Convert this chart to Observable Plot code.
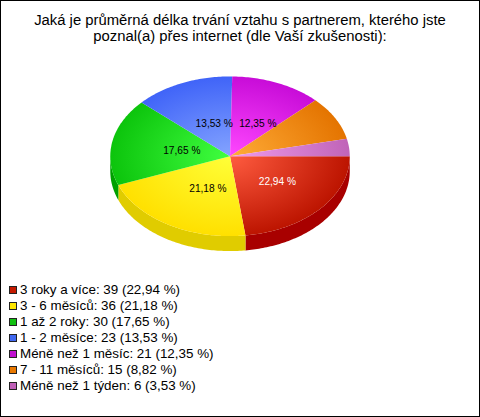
<!DOCTYPE html>
<html><head><meta charset="utf-8">
<script src="https://cdn.jsdelivr.net/npm/d3@7"></script>
<script src="https://cdn.jsdelivr.net/npm/@observablehq/plot@0.6"></script>
<style>
html,body{margin:0;padding:0;background:#fff}
#frame{position:relative;box-sizing:border-box;width:480px;height:417px;border:1px solid #000;overflow:hidden;font-family:"Liberation Sans",Arial,sans-serif;color:#000}
#title{position:absolute;left:0;top:11px;width:478px;text-align:center;font-size:14.85px;line-height:16px}
#chart{position:absolute;left:-1px;top:48px}
#chart svg{display:block}
#legend{position:absolute;left:8px;top:281px;font-size:13.4px;line-height:16px;white-space:nowrap}
.row{height:16px;display:flex;align-items:center}
.sw{display:inline-block;box-sizing:border-box;width:8px;height:8px;border:1px solid #222;margin-right:3px;flex:none}
</style></head><body>
<div id="frame"><div id="title">Jaká je průměrná délka trvání vztahu s partnerem, kterého jste<br>poznal(a) přes internet (dle Vaší zkušenosti):</div><div id="chart"></div><div id="legend"></div></div>
<script>
const categories = ["3 roky a více","3 - 6 měsíců","1 až 2 roky","1 - 2 měsíce","Méně než 1 měsíc","7 - 11 měsíců","Méně než 1 týden"];
const counts = [39,36,30,23,21,15,6];
const percents = ["22,94","21,18","17,65","13,53","12,35","8,82","3,53"];
const swatchColors = ["#c41a00","#ffe600","#10c010","#4068f0","#c010d0","#e87800","#c060b8"];
const innerColors = ["#ff5c40","#ffff38","#40ff40","#84a4ff","#ff48ff","#ffac38","#f09cec"];
const outerColors = ["#bc1400","#ffe000","#0cc40c","#4064f8","#c80cd8","#e47400","#c064b8"];
const wallColors = ["#a80000","#e0cc00","#00a000","#2040b0","#9000a0","#b05000","#905088"];
const labelColors = ["#fff","#000","#000","#000","#000"];
const labelled = 5;

const total = d3.sum(counts);
let acc = 0;
const slices = counts.map((c,i)=>{const a0=acc/total*2*Math.PI; acc+=c; return {i,a0,a1:acc/total*2*Math.PI};});
const DEPTH = 0.1875;
const arc = (a0,a1,dy=0)=>{const n=Math.max(2,Math.ceil((a1-a0)*60)),p=[];
  for(let k=0;k<=n;k++){const a=a0+(a1-a0)*k/n;p.push({x:Math.cos(a),y:Math.sin(a)+dy});}return p;};
const tops = slices.map(s=>[{x:0,y:0},...arc(s.a0,s.a1)]);
const walls = slices.filter(s=>s.a0<Math.PI).map(s=>{const e=Math.min(s.a1,Math.PI);
  return {i:s.i,pts:[...arc(s.a0,e),...arc(s.a0,e,DEPTH).reverse()]};});
const labels = slices.slice(0,labelled).map(s=>{const m=(s.a0+s.a1)/2;
  return {x:0.46*Math.cos(m),y:0.46*Math.sin(m),t:percents[s.i]+" %",c:labelColors[s.i]};});

const lineOpts = fill=>({x:"x",y:"y",fill,stroke:"none",curve:"linear"});
const plot = Plot.plot({
  width:480,height:220,margin:0,
  style:{background:"transparent"},
  x:{axis:null,domain:[-230/120,250/120],range:[0,480]},
  y:{axis:null,domain:[-107/80,113/80],range:[0,220]},
  marks:[
    ...walls.map(w=>Plot.line(w.pts,lineOpts(wallColors[w.i]))),
    ...tops.map((t,i)=>Plot.line(t,lineOpts(`url(#g${i})`))),
    Plot.text(labels,{x:"x",y:"y",text:"t",fill:"c",dx:6,dy:1,fontSize:10.2,fontFamily:"Liberation Sans"})
  ]
});
const defs = d3.select(plot).insert("defs",":first-child");
innerColors.forEach((c,i)=>{
  const g = defs.append("radialGradient").attr("id","g"+i).attr("gradientUnits","userSpaceOnUse")
    .attr("cx",0).attr("cy",0).attr("r",1)
    .attr("gradientTransform","translate(230,107) scale(120,80)");
  g.append("stop").attr("offset",0).attr("stop-color",c);
  g.append("stop").attr("offset",1).attr("stop-color",outerColors[i]);
});
document.getElementById("chart").append(plot);
const lg = document.getElementById("legend");
categories.forEach((c,i)=>{
  const r=document.createElement("div");r.className="row";
  const s=document.createElement("span");s.className="sw";s.style.background=swatchColors[i];
  r.append(s,document.createTextNode(`${c}: ${counts[i]} (${percents[i]} %)`));
  lg.append(r);
});
</script></body></html>
